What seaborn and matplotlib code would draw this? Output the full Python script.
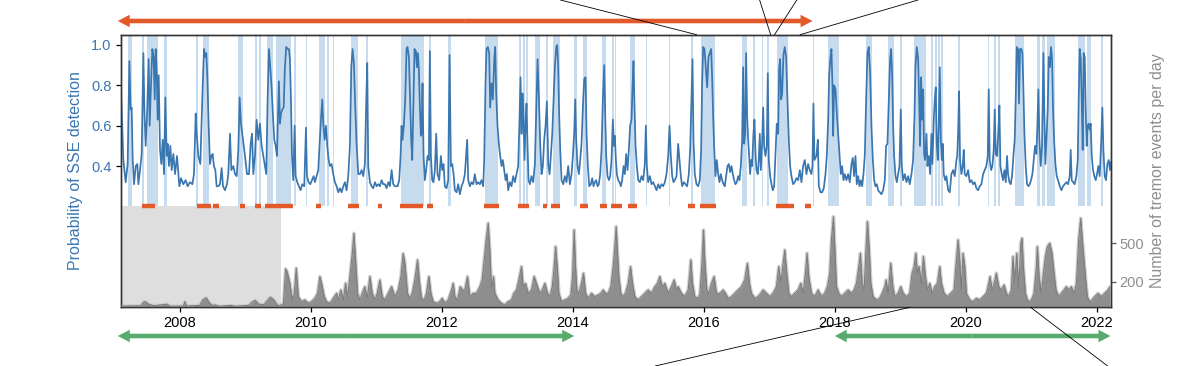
import numpy as np
import pandas as pd
import matplotlib
matplotlib.use("Agg")
import matplotlib.pyplot as plt
import seaborn as sns
from matplotlib.patches import ConnectionPatch

# ---------------- data (decimal years) ----------------
sse_year_a = [
    2007.094, 2007.135, 2007.171, 2007.201, 2007.227, 2007.247, 2007.262, 2007.278, 2007.298, 2007.324,
    2007.349, 2007.364, 2007.390, 2007.415, 2007.441, 2007.456, 2007.476, 2007.497, 2007.522, 2007.537,
    2007.558, 2007.578, 2007.598, 2007.614, 2007.629, 2007.644, 2007.659, 2007.675, 2007.695, 2007.715,
    2007.736, 2007.756, 2007.776, 2007.797, 2007.812, 2007.832, 2007.853, 2007.873, 2007.899, 2007.924,
    2007.955, 2007.990, 2008.016, 2008.051, 2008.087, 2008.117, 2008.153, 2008.189, 2008.214, 2008.240,
    2008.255, 2008.280, 2008.311, 2008.346, 2008.367, 2008.387, 2008.402, 2008.418, 2008.438, 2008.458,
    2008.479, 2008.499, 2008.519, 2008.540, 2008.560, 2008.586, 2008.611, 2008.636, 2008.657, 2008.687,
    2008.718, 2008.738, 2008.764, 2008.784, 2008.815, 2008.840, 2008.866, 2008.891, 2008.911, 2008.932,
    2008.962, 2008.993, 2009.023, 2009.054, 2009.079, 2009.100, 2009.120, 2009.145]
sse_prob_a = [
    0.83, 0.43, 0.32, 0.41, 0.92, 0.68, 0.69, 0.43, 0.31, 0.40,
    0.41, 0.31, 0.38, 0.46, 0.96, 0.68, 0.50, 0.65, 0.93, 0.60,
    0.81, 0.98, 0.94, 0.73, 0.98, 0.88, 0.63, 0.85, 0.48, 0.41,
    0.53, 0.36, 0.74, 0.45, 0.51, 0.40, 0.50, 0.38, 0.46, 0.36,
    0.45, 0.30, 0.34, 0.31, 0.33, 0.30, 0.32, 0.31, 0.36, 0.66,
    0.56, 0.45, 0.41, 0.79, 0.98, 0.94, 0.96, 0.84, 0.60, 0.41,
    0.45, 0.46, 0.40, 0.38, 0.30, 0.30, 0.31, 0.39, 0.30, 0.28,
    0.31, 0.36, 0.56, 0.38, 0.40, 0.36, 0.35, 0.48, 0.74, 0.61,
    0.53, 0.45, 0.36, 0.36, 0.51, 0.56, 0.36, 0.45]

sse_year_b = [
    2009.170, 2009.196, 2009.221, 2009.247, 2009.272, 2009.298, 2009.318, 2009.338, 2009.359, 2009.379,
    2009.399, 2009.420, 2009.440, 2009.461, 2009.481, 2009.496, 2009.511, 2009.527, 2009.542, 2009.562,
    2009.583, 2009.603, 2009.623, 2009.644, 2009.664, 2009.679, 2009.695, 2009.710, 2009.730, 2009.751,
    2009.766, 2009.791, 2009.817, 2009.842, 2009.868, 2009.898, 2009.924, 2009.939, 2009.964, 2009.990,
    2010.015, 2010.041, 2010.061, 2010.086, 2010.112, 2010.132, 2010.153, 2010.173, 2010.188, 2010.209,
    2010.229, 2010.249, 2010.270, 2010.290, 2010.315, 2010.341, 2010.366, 2010.392, 2010.417, 2010.443,
    2010.468, 2010.494, 2010.519, 2010.545, 2010.570, 2010.595, 2010.616, 2010.636, 2010.656, 2010.677,
    2010.697, 2010.723, 2010.748, 2010.774, 2010.799, 2010.824, 2010.845, 2010.860, 2010.875, 2010.901,
    2010.926, 2010.952, 2010.977, 2011.003, 2011.028, 2011.053, 2011.079, 2011.104, 2011.130, 2011.155,
    2011.181, 2011.206, 2011.232, 2011.257, 2011.282]
sse_prob_b = [
    0.63, 0.53, 0.61, 0.50, 0.45, 0.40, 0.36, 0.73, 0.98, 0.89,
    0.79, 0.65, 0.53, 0.50, 0.45, 0.63, 0.82, 0.61, 0.66, 0.68,
    0.69, 0.89, 0.99, 0.98, 0.98, 0.93, 0.73, 0.45, 0.33, 0.60,
    0.35, 0.32, 0.30, 0.28, 0.31, 0.30, 0.59, 0.35, 0.32, 0.31,
    0.33, 0.35, 0.32, 0.35, 0.38, 0.51, 0.63, 0.73, 0.61, 0.53,
    0.60, 0.50, 0.43, 0.40, 0.41, 0.36, 0.32, 0.30, 0.27, 0.29,
    0.27, 0.30, 0.32, 0.28, 0.35, 0.50, 0.89, 0.98, 0.91, 0.69,
    0.51, 0.36, 0.36, 0.38, 0.35, 0.41, 0.73, 0.91, 0.40, 0.32,
    0.30, 0.29, 0.32, 0.30, 0.31, 0.30, 0.33, 0.31, 0.31, 0.29,
    0.32, 0.30, 0.38, 0.31, 0.30]

sse_year_c = [
    2011.323, 2011.348, 2011.369, 2011.384, 2011.399, 2011.419, 2011.440, 2011.460, 2011.475, 2011.496,
    2011.511, 2011.531, 2011.547, 2011.567, 2011.582, 2011.603, 2011.618, 2011.633, 2011.648, 2011.664,
    2011.679, 2011.689, 2011.704, 2011.720, 2011.740, 2011.760, 2011.781, 2011.801, 2011.816, 2011.832,
    2011.852, 2011.872, 2011.893, 2011.913, 2011.933, 2011.959, 2011.984, 2012.005, 2012.025, 2012.045,
    2012.071, 2012.096, 2012.117, 2012.137, 2012.157, 2012.178, 2012.198, 2012.224, 2012.249, 2012.274,
    2012.300, 2012.325, 2012.351, 2012.371, 2012.386, 2012.402, 2012.427, 2012.453, 2012.478, 2012.503,
    2012.529, 2012.554, 2012.580, 2012.605, 2012.631, 2012.646, 2012.666, 2012.681, 2012.702, 2012.722,
    2012.737, 2012.758, 2012.778, 2012.799, 2012.814, 2012.829, 2012.849, 2012.870, 2012.890, 2012.911,
    2012.931, 2012.951, 2012.972, 2012.992, 2013.012, 2013.038, 2013.063, 2013.089, 2013.114, 2013.140,
    2013.165, 2013.185, 2013.201, 2013.216, 2013.231, 2013.246, 2013.262, 2013.277, 2013.292, 2013.307,
    2013.323, 2013.343, 2013.369, 2013.394, 2013.420]
sse_prob_c = [
    0.30, 0.33, 0.45, 0.60, 0.53, 0.60, 0.73, 0.98, 0.99, 0.94,
    0.76, 0.53, 0.43, 0.73, 0.98, 0.97, 0.89, 0.96, 0.88, 0.69,
    0.55, 0.56, 0.81, 0.45, 0.33, 0.38, 0.45, 0.43, 0.97, 0.45,
    0.33, 0.32, 0.38, 0.56, 0.36, 0.33, 0.45, 0.38, 0.41, 0.30,
    0.29, 0.33, 0.95, 0.40, 0.41, 0.36, 0.28, 0.27, 0.31, 0.26,
    0.30, 0.32, 0.36, 0.46, 0.53, 0.33, 0.30, 0.32, 0.31, 0.36,
    0.31, 0.32, 0.31, 0.33, 0.30, 0.43, 0.81, 0.98, 0.99, 0.96,
    0.69, 0.81, 0.73, 0.93, 0.99, 0.76, 0.60, 0.51, 0.45, 0.40,
    0.43, 0.38, 0.33, 0.36, 0.28, 0.32, 0.30, 0.35, 0.32, 0.36,
    0.40, 0.63, 0.84, 0.56, 0.76, 0.65, 0.43, 0.60, 0.71, 0.51,
    0.33, 0.31, 0.35, 0.32, 0.41]

sse_year_d = [
    2013.461, 2013.481, 2013.501, 2013.522, 2013.542, 2013.562, 2013.583, 2013.603, 2013.624, 2013.644,
    2013.664, 2013.685, 2013.705, 2013.725, 2013.746, 2013.761, 2013.776, 2013.791, 2013.807, 2013.827,
    2013.853, 2013.878, 2013.903, 2013.929, 2013.954, 2013.980, 2014.000, 2014.020, 2014.036, 2014.051,
    2014.071, 2014.092, 2014.112, 2014.132, 2014.158, 2014.173, 2014.194, 2014.209, 2014.229, 2014.250,
    2014.275, 2014.295, 2014.316, 2014.336, 2014.356, 2014.377, 2014.397, 2014.417, 2014.438, 2014.458,
    2014.479, 2014.494, 2014.509, 2014.529, 2014.550, 2014.570, 2014.590, 2014.611, 2014.626, 2014.641,
    2014.657, 2014.672, 2014.692, 2014.713, 2014.733, 2014.753, 2014.774, 2014.794, 2014.814, 2014.835,
    2014.855, 2014.875, 2014.896, 2014.911, 2014.926, 2014.942, 2014.957, 2014.977, 2014.998, 2015.023,
    2015.049, 2015.074, 2015.099, 2015.115, 2015.130, 2015.150, 2015.176, 2015.201, 2015.227, 2015.252,
    2015.278, 2015.303, 2015.328, 2015.354, 2015.379, 2015.405, 2015.430, 2015.456, 2015.476, 2015.496,
    2015.517, 2015.537, 2015.557, 2015.583, 2015.608]
sse_prob_d = [
    0.93, 0.74, 0.51, 0.36, 0.40, 0.53, 0.60, 0.72, 0.41, 0.36,
    0.45, 0.56, 0.73, 0.89, 0.99, 1.00, 0.89, 0.65, 0.48, 0.33,
    0.31, 0.35, 0.32, 0.40, 0.31, 0.36, 0.45, 0.56, 0.73, 0.53,
    0.40, 0.36, 0.43, 0.51, 0.73, 0.83, 0.84, 0.56, 0.40, 0.30,
    0.31, 0.34, 0.30, 0.32, 0.33, 0.30, 0.31, 0.36, 0.48, 0.73,
    0.90, 0.65, 0.45, 0.35, 0.33, 0.35, 0.43, 0.63, 0.50, 0.55,
    0.43, 0.36, 0.33, 0.32, 0.30, 0.33, 0.40, 0.36, 0.46, 0.38,
    0.48, 0.60, 0.63, 0.79, 0.92, 0.69, 0.50, 0.40, 0.33, 0.32,
    0.35, 0.33, 0.41, 0.60, 0.40, 0.32, 0.35, 0.31, 0.32, 0.30,
    0.28, 0.31, 0.29, 0.31, 0.30, 0.32, 0.36, 0.45, 0.60, 0.45,
    0.35, 0.32, 0.33, 0.35, 0.51]

sse_year_e = [
    2015.649, 2015.669, 2015.694, 2015.720, 2015.745, 2015.771, 2015.791, 2015.811, 2015.827, 2015.842,
    2015.862, 2015.888, 2015.913, 2015.939, 2015.959, 2015.974, 2015.990, 2016.010, 2016.030, 2016.051,
    2016.071, 2016.091, 2016.112, 2016.127, 2016.142, 2016.157, 2016.178, 2016.198, 2016.219, 2016.239,
    2016.259, 2016.280, 2016.300, 2016.320, 2016.341, 2016.361, 2016.381, 2016.402, 2016.422, 2016.443,
    2016.463, 2016.483, 2016.504, 2016.524, 2016.544, 2016.565, 2016.585, 2016.600, 2016.616, 2016.631,
    2016.646, 2016.661, 2016.677, 2016.692, 2016.707, 2016.722, 2016.738, 2016.758, 2016.773, 2016.789,
    2016.804, 2016.824, 2016.839, 2016.855, 2016.870, 2016.890, 2016.906, 2016.921, 2016.941, 2016.962,
    2016.977, 2016.992, 2017.013, 2017.033, 2017.053, 2017.074, 2017.094, 2017.114, 2017.135, 2017.150,
    2017.165, 2017.181, 2017.196, 2017.216, 2017.236, 2017.257, 2017.277, 2017.298, 2017.318, 2017.338,
    2017.364, 2017.389, 2017.415, 2017.440, 2017.466, 2017.491, 2017.516, 2017.542, 2017.567, 2017.593,
    2017.618, 2017.644, 2017.659, 2017.674, 2017.689]
sse_prob_e = [
    0.35, 0.30, 0.32, 0.31, 0.30, 0.36, 0.48, 0.73, 0.93, 0.53,
    0.36, 0.31, 0.30, 0.33, 0.48, 0.81, 0.99, 0.98, 0.89, 0.79,
    0.94, 0.96, 0.98, 0.84, 0.65, 0.50, 0.35, 0.43, 0.36, 0.32,
    0.36, 0.33, 0.31, 0.30, 0.35, 0.40, 0.41, 0.37, 0.40, 0.36,
    0.33, 0.31, 0.32, 0.35, 0.33, 0.40, 0.53, 0.89, 0.51, 0.56,
    0.96, 0.65, 0.53, 0.45, 0.36, 0.43, 0.40, 0.56, 0.63, 0.46,
    0.38, 0.36, 0.43, 0.56, 0.38, 0.51, 0.69, 0.50, 0.45, 0.50,
    0.86, 0.43, 0.35, 0.31, 0.28, 0.30, 0.45, 0.61, 0.56, 0.88,
    0.93, 0.73, 0.76, 0.95, 0.99, 0.94, 0.73, 0.53, 0.40, 0.35,
    0.31, 0.32, 0.34, 0.33, 0.38, 0.32, 0.40, 0.43, 0.36, 0.41,
    0.38, 0.36, 0.40, 0.71, 0.43]

sse_year_f = [
    2017.720, 2017.741, 2017.756, 2017.782, 2017.807, 2017.832, 2017.858, 2017.878, 2017.899, 2017.914,
    2017.934, 2017.949, 2017.965, 2017.975, 2017.990, 2018.011, 2018.031, 2018.051, 2018.072, 2018.092,
    2018.112, 2018.133, 2018.153, 2018.178, 2018.204, 2018.229, 2018.255, 2018.275, 2018.295, 2018.316,
    2018.336, 2018.357, 2018.377, 2018.397, 2018.418, 2018.438, 2018.458, 2018.479, 2018.499, 2018.519,
    2018.540, 2018.560, 2018.581, 2018.601, 2018.621, 2018.642, 2018.662, 2018.687, 2018.713, 2018.738,
    2018.764, 2018.784, 2018.804, 2018.825, 2018.845, 2018.860, 2018.876, 2018.891, 2018.906, 2018.927,
    2018.947, 2018.967, 2018.988, 2019.008, 2019.023, 2019.044, 2019.069, 2019.095, 2019.120, 2019.145,
    2019.171, 2019.196, 2019.217, 2019.232, 2019.252, 2019.273, 2019.288, 2019.303, 2019.318, 2019.334,
    2019.349, 2019.364, 2019.379, 2019.400, 2019.415, 2019.435, 2019.456, 2019.476, 2019.491, 2019.512,
    2019.527, 2019.542, 2019.557, 2019.573, 2019.588, 2019.603, 2019.619, 2019.634, 2019.649, 2019.664,
    2019.685, 2019.705, 2019.731, 2019.756, 2019.781, 2019.807, 2019.832, 2019.858, 2019.870]
sse_prob_f = [
    0.45, 0.53, 0.30, 0.27, 0.27, 0.29, 0.36, 0.45, 0.63, 0.85,
    0.94, 0.98, 0.79, 0.55, 0.80, 0.78, 0.66, 0.56, 0.45, 0.36,
    0.40, 0.33, 0.36, 0.33, 0.36, 0.32, 0.41, 0.44, 0.35, 0.45,
    0.31, 0.35, 0.30, 0.33, 0.30, 0.36, 0.45, 0.73, 0.96, 0.99,
    0.86, 0.60, 0.43, 0.33, 0.30, 0.31, 0.28, 0.27, 0.26, 0.28,
    0.33, 0.50, 0.51, 0.73, 0.93, 0.98, 0.86, 0.60, 0.45, 0.35,
    0.32, 0.36, 0.40, 0.68, 0.40, 0.33, 0.36, 0.32, 0.35, 0.31,
    0.36, 0.43, 0.65, 0.89, 0.99, 0.93, 0.73, 0.50, 0.84, 0.63,
    0.78, 0.46, 0.43, 0.56, 0.40, 0.45, 0.36, 0.56, 0.41, 0.63,
    0.73, 0.79, 0.51, 0.43, 0.61, 0.89, 0.53, 0.43, 0.51, 0.36,
    0.33, 0.35, 0.28, 0.27, 0.36, 0.38, 0.35, 0.43, 0.45]

sse_year_g = [
    2019.883, 2019.898, 2019.913, 2019.934, 2019.954, 2019.969, 2019.985, 2020.010, 2020.036, 2020.061,
    2020.086, 2020.112, 2020.137, 2020.163, 2020.188, 2020.214, 2020.239, 2020.265, 2020.290, 2020.315,
    2020.336, 2020.351, 2020.366, 2020.387, 2020.407, 2020.427, 2020.443, 2020.458, 2020.478, 2020.499,
    2020.514, 2020.529, 2020.550, 2020.570, 2020.590, 2020.611, 2020.631, 2020.646, 2020.667, 2020.687,
    2020.707, 2020.728, 2020.748, 2020.763, 2020.779, 2020.799, 2020.814, 2020.829, 2020.850, 2020.865,
    2020.880, 2020.896, 2020.916, 2020.936, 2020.957, 2020.977, 2020.997, 2021.018, 2021.038, 2021.059,
    2021.079, 2021.094, 2021.109, 2021.125, 2021.145, 2021.165, 2021.186, 2021.201, 2021.216, 2021.232,
    2021.252, 2021.267, 2021.283, 2021.303, 2021.318, 2021.333, 2021.349, 2021.369, 2021.389, 2021.410,
    2021.435, 2021.461, 2021.486, 2021.511, 2021.537, 2021.562, 2021.588, 2021.603, 2021.618, 2021.639,
    2021.664, 2021.690, 2021.710, 2021.725, 2021.740, 2021.756, 2021.771, 2021.786, 2021.801, 2021.817,
    2021.832, 2021.847, 2021.862, 2021.878, 2021.893, 2021.908, 2021.924, 2021.944, 2021.964, 2021.985,
    2022.005, 2022.025, 2022.046, 2022.066, 2022.086, 2022.102, 2022.122, 2022.142, 2022.163, 2022.183,
    2022.203, 2022.214]
sse_prob_g = [
    0.56, 0.77, 0.43, 0.36, 0.40, 0.48, 0.36, 0.35, 0.38, 0.32,
    0.33, 0.31, 0.32, 0.29, 0.28, 0.30, 0.31, 0.36, 0.38, 0.40,
    0.45, 0.78, 0.43, 0.38, 0.40, 0.48, 0.68, 0.46, 0.45, 0.58,
    0.70, 0.40, 0.36, 0.33, 0.38, 0.32, 0.45, 0.36, 0.32, 0.31,
    0.35, 0.45, 0.53, 0.73, 0.99, 0.98, 0.71, 0.98, 0.98, 0.96,
    0.79, 0.56, 0.40, 0.31, 0.30, 0.31, 0.33, 0.36, 0.43, 0.50,
    0.46, 0.60, 0.78, 0.53, 0.40, 0.50, 0.96, 0.65, 0.41, 0.53,
    0.68, 0.94, 0.89, 0.99, 0.93, 0.68, 0.53, 0.41, 0.35, 0.33,
    0.30, 0.28, 0.30, 0.31, 0.32, 0.31, 0.35, 0.48, 0.33, 0.32,
    0.31, 0.35, 0.43, 0.73, 0.98, 0.93, 0.73, 0.48, 0.96, 0.94,
    0.68, 0.50, 0.60, 0.61, 0.58, 0.61, 0.45, 0.38, 0.35, 0.33,
    0.36, 0.40, 0.35, 0.50, 0.69, 0.48, 0.35, 0.33, 0.41, 0.43,
    0.38, 0.42]

tremor_year = [
    2007.10, 2007.40, 2007.44, 2007.47, 2007.52, 2007.60, 2007.80, 2007.85, 2008.05, 2008.076,
    2008.10, 2008.30, 2008.35, 2008.40, 2008.45, 2008.50, 2008.53, 2008.60, 2008.78, 2008.85,
    2009.05, 2009.10, 2009.15, 2009.20, 2009.28, 2009.38, 2009.43, 2009.50, 2009.55,
    2009.578, 2009.613, 2009.635, 2009.679, 2009.715, 2009.745, 2009.776, 2009.807, 2009.857, 2009.908,
    2009.959, 2010.010, 2010.061, 2010.102, 2010.137, 2010.163, 2010.204, 2010.239, 2010.290, 2010.341,
    2010.392, 2010.417, 2010.458, 2010.494, 2010.529, 2010.560, 2010.595, 2010.631, 2010.656, 2010.682,
    2010.712, 2010.748, 2010.784, 2010.824, 2010.860, 2010.901, 2010.936, 2010.977, 2011.013, 2011.053,
    2011.089, 2011.130, 2011.181, 2011.232, 2011.282, 2011.333, 2011.374, 2011.409, 2011.435, 2011.475,
    2011.511, 2011.547, 2011.587, 2011.628, 2011.659, 2011.689, 2011.730, 2011.765, 2011.801, 2011.832,
    2011.867, 2011.918, 2011.969, 2012.005, 2012.045, 2012.096, 2012.147, 2012.173, 2012.198, 2012.239,
    2012.280, 2012.315, 2012.351, 2012.391, 2012.427, 2012.478, 2012.529, 2012.580, 2012.615, 2012.646,
    2012.676, 2012.707, 2012.732, 2012.758, 2012.788, 2012.809, 2012.860, 2012.911, 2012.961, 2013.012,
    2013.063, 2013.099, 2013.140, 2013.175, 2013.216, 2013.241, 2013.277, 2013.318, 2013.369, 2013.409,
    2013.461, 2013.496, 2013.532, 2013.573, 2013.613, 2013.649, 2013.685, 2013.715, 2013.736, 2013.761,
    2013.786, 2013.827, 2013.878, 2013.929, 2013.970, 2013.995, 2014.020, 2014.041, 2014.061, 2014.092,
    2014.132, 2014.163, 2014.194, 2014.234, 2014.285, 2014.336, 2014.387, 2014.428, 2014.463, 2014.499,
    2014.540, 2014.580, 2014.616, 2014.641, 2014.662, 2014.682, 2014.702, 2014.733, 2014.764, 2014.804,
    2014.845, 2014.881, 2014.911, 2014.947, 2014.998, 2015.049, 2015.099, 2015.150, 2015.201, 2015.252,
    2015.293, 2015.328, 2015.364, 2015.405, 2015.456, 2015.506, 2015.547, 2015.583, 2015.608, 2015.659,
    2015.710, 2015.761, 2015.786, 2015.801, 2015.827, 2015.862, 2015.903, 2015.939, 2015.969, 2015.995,
    2016.015, 2016.046, 2016.076, 2016.117, 2016.157, 2016.193, 2016.244, 2016.295, 2016.331, 2016.371,
    2016.422, 2016.473, 2016.524, 2016.575, 2016.626, 2016.666, 2016.697, 2016.727, 2016.778, 2016.829,
    2016.870, 2016.906, 2016.956, 2017.007, 2017.058, 2017.109, 2017.145, 2017.175, 2017.211, 2017.236,
    2017.267, 2017.298, 2017.338, 2017.389, 2017.440, 2017.481, 2017.516, 2017.552, 2017.577, 2017.603,
    2017.644, 2017.694, 2017.746, 2017.797, 2017.848, 2017.888, 2017.924, 2017.949, 2017.980, 2018.000,
    2018.026, 2018.061, 2018.102, 2018.153, 2018.204, 2018.255, 2018.295, 2018.331, 2018.367, 2018.392,
    2018.418, 2018.448, 2018.474, 2018.499, 2018.524, 2018.550, 2018.586, 2018.636, 2018.687, 2018.723,
    2018.764, 2018.784, 2018.815, 2018.855, 2018.886, 2018.916, 2018.967, 2019.008, 2019.044, 2019.095,
    2019.145, 2019.181, 2019.212, 2019.237, 2019.262, 2019.288, 2019.323, 2019.354, 2019.384, 2019.415,
    2019.451, 2019.486, 2019.527, 2019.568, 2019.603, 2019.629, 2019.669, 2019.720, 2019.771, 2019.822,
    2019.857, 2019.883, 2019.908, 2019.934, 2019.959, 2019.985, 2020.010, 2020.061, 2020.112, 2020.163,
    2020.214, 2020.265, 2020.315, 2020.341, 2020.371, 2020.402, 2020.433, 2020.468, 2020.504, 2020.544,
    2020.585, 2020.621, 2020.656, 2020.697, 2020.722, 2020.748, 2020.779, 2020.809, 2020.840, 2020.860,
    2020.880, 2020.911, 2020.951, 2021.003, 2021.043, 2021.079, 2021.094, 2021.120, 2021.155, 2021.186,
    2021.216, 2021.247, 2021.283, 2021.318, 2021.349, 2021.379, 2021.420, 2021.461, 2021.501, 2021.537,
    2021.572, 2021.613, 2021.654, 2021.690, 2021.725, 2021.756, 2021.781, 2021.806, 2021.832, 2021.857,
    2021.893, 2021.929, 2021.969, 2022.020, 2022.071, 2022.122, 2022.173, 2022.203]
tremor_count = [
    10, 12, 40, 45, 25, 12, 25, 8, 10, 45,
    10, 15, 60, 75, 35, 12, 20, 8, 15, 8,
    15, 40, 55, 25, 20, 80, 60, 10, 20,
    18, 300, 280, 187, 57, 109, 305, 83, 44, 57,
    31, 44, 70, 109, 240, 187, 83, 44, 31, 70,
    109, 57, 135, 57, 187, 83, 240, 420, 578, 370,
    109, 57, 109, 161, 70, 240, 109, 57, 109, 213,
    83, 57, 109, 161, 83, 135, 240, 420, 344, 109,
    70, 109, 214, 370, 187, 70, 57, 109, 240, 109,
    44, 31, 44, 70, 31, 57, 135, 187, 83, 57,
    161, 135, 135, 240, 83, 109, 109, 161, 214, 370,
    526, 656, 448, 135, 240, 109, 57, 31, 18, 44,
    57, 109, 135, 214, 318, 161, 187, 109, 135, 240,
    161, 109, 135, 187, 109, 83, 161, 318, 474, 318,
    109, 44, 57, 70, 96, 240, 604, 318, 135, 109,
    187, 266, 109, 70, 109, 83, 96, 109, 135, 109,
    109, 161, 318, 474, 630, 422, 240, 109, 83, 109,
    187, 318, 187, 83, 57, 83, 109, 135, 109, 161,
    187, 240, 161, 187, 109, 161, 214, 135, 161, 109,
    83, 135, 266, 370, 187, 83, 70, 96, 318, 604,
    370, 135, 109, 187, 240, 109, 109, 135, 109, 70,
    83, 109, 135, 161, 214, 344, 187, 109, 70, 83,
    109, 135, 109, 83, 109, 161, 318, 187, 344, 448,
    266, 109, 83, 109, 135, 187, 109, 266, 422, 240,
    109, 83, 135, 83, 109, 161, 266, 526, 708, 474,
    161, 109, 83, 109, 135, 109, 135, 187, 318, 422,
    187, 135, 422, 669, 474, 187, 83, 57, 70, 109,
    161, 214, 109, 344, 161, 83, 109, 161, 109, 83,
    109, 266, 318, 422, 266, 318, 187, 396, 240, 135,
    187, 109, 161, 187, 318, 187, 109, 83, 109, 135,
    370, 526, 370, 135, 422, 318, 109, 57, 44, 70,
    57, 83, 109, 161, 240, 135, 187, 266, 161, 135,
    174, 109, 83, 135, 396, 187, 422, 135, 500, 539,
    318, 109, 44, 57, 109, 318, 474, 240, 109, 266,
    396, 474, 500, 422, 266, 135, 83, 109, 135, 161,
    135, 161, 109, 187, 526, 695, 526, 370, 214, 83,
    44, 57, 83, 109, 83, 109, 135, 161]

# probability-detection windows (light blue bands)
detect_start = [2007.20, 2007.415, 2007.49, 2007.76, 2008.24, 2008.35, 2008.89, 2009.15,
                2009.206, 2009.333, 2009.46, 2009.50, 2009.746, 2009.92, 2010.122, 2010.24,
                2010.33, 2010.611, 2010.84, 2011.374, 2011.70, 2011.81, 2012.096, 2012.656,
                2013.175, 2013.24, 2013.282, 2013.42, 2013.583, 2013.70, 2014.015, 2014.148,
                2014.448, 2014.60, 2014.641, 2014.88, 2015.11, 2015.47, 2015.80, 2015.954,
                2016.585, 2016.636, 2016.758, 2016.89, 2016.962, 2017.114, 2017.664, 2017.899,
                2018.474, 2018.82, 2019.0, 2019.212, 2019.476, 2019.527, 2019.578, 2019.62,
                2019.883, 2020.336, 2020.433, 2020.499, 2020.748, 2021.094, 2021.165, 2021.247,
                2021.715, 2021.847, 2022.071]
detect_end = [2007.27, 2007.456, 2007.66, 2007.80, 2008.28, 2008.44, 2008.96, 2009.18,
              2009.237, 2009.425, 2009.49, 2009.695, 2009.766, 2009.934, 2010.214, 2010.27,
              2010.35, 2010.723, 2010.875, 2011.689, 2011.725, 2011.84, 2012.137, 2012.86,
              2013.206, 2013.267, 2013.313, 2013.495, 2013.613, 2013.80, 2014.066, 2014.209,
              2014.499, 2014.63, 2014.66, 2014.947, 2015.125, 2015.49, 2015.842, 2016.168,
              2016.626, 2016.666, 2016.778, 2016.91, 2016.992, 2017.287, 2017.684, 2018.072,
              2018.57, 2018.901, 2019.02, 2019.39, 2019.496, 2019.557, 2019.61, 2019.655,
              2019.908, 2020.361, 2020.463, 2020.529, 2020.891, 2021.13, 2021.206, 2021.359,
              2021.827, 2021.919, 2022.102]

# catalogued SSEs (orange bars)
catalog_start = [2007.42, 2008.26, 2008.51, 2008.91, 2009.15, 2009.30, 2010.08, 2010.57,
                 2011.03, 2011.36, 2011.765, 2012.646, 2013.165, 2013.547, 2013.664, 2014.107,
                 2014.412, 2014.59, 2014.845, 2015.76, 2015.939, 2017.099, 2017.552]
catalog_end = [2007.62, 2008.48, 2008.59, 2008.99, 2009.23, 2009.73, 2010.16, 2010.73,
               2011.09, 2011.715, 2011.867, 2012.87, 2013.33, 2013.608, 2013.80, 2014.234,
               2014.514, 2014.743, 2014.982, 2015.862, 2016.193, 2017.379, 2017.633]
catalog_level = 0.2

no_tremor_period = [2007.095, 2009.55]
year_ticks = [2008, 2010, 2012, 2014, 2016, 2018, 2020, 2022]
prob_ticks = [0.4, 0.6, 0.8, 1.0]
tremor_ticks = [200, 500]
x_range = [2007.095, 2022.214]
prob_range = [-0.30, 1.051]
tremor_range = [0, 2130]

orange_arrows = [(2007.05, 2017.66)]
green_arrows = [(2007.05, 2014.02), (2018.0, 2022.21)]
connector_top_year = [2015.89, 2017.02, 2017.08, 2017.47]
connector_top_figx = [0.467, 0.633, 0.664, 0.765]
connector_bot_year = [2019.15, 2020.99]
connector_bot_figx = [0.546, 0.923]

# ---------------- style ----------------
BLUE = "#3a76b0"
SPAN = "#c7dbee"
ORANGE = "#e35a2a"
GREEN = "#57ab6c"
GRAY_TXT = "#8f8f8f"

sns.set_theme(style="white")
plt.rcParams["font.family"] = ["Liberation Sans", "DejaVu Sans"]

sse_year = sse_year_a + sse_year_b + sse_year_c + sse_year_d + sse_year_e + sse_year_f + sse_year_g
sse_prob = sse_prob_a + sse_prob_b + sse_prob_c + sse_prob_d + sse_prob_e + sse_prob_f + sse_prob_g
sse_df = pd.DataFrame({"year": sse_year, "prob": sse_prob})
tr_df = pd.DataFrame({"year": tremor_year, "count": tremor_count})

fig = plt.figure(figsize=(12, 3.66), dpi=100)
ax = fig.add_axes([0.1006, 0.1604, 0.8250, 0.7448])
ax.set_xlim(*x_range)
ax.set_ylim(*prob_range)

lo, hi = prob_range
frac = (catalog_level - lo) / (hi - lo)

for s, e in zip(detect_start, detect_end):
    ax.axvspan(s, e, ymin=frac, ymax=1, color=SPAN, lw=0, zorder=0.5)
ax.axvspan(no_tremor_period[0], no_tremor_period[1], ymin=0, ymax=frac,
           color="#dedede", lw=0, zorder=0.4)

sns.lineplot(data=sse_df, x="year", y="prob", ax=ax, color=BLUE, lw=1.25,
             estimator=None, sort=False, zorder=3)
ax.hlines([catalog_level] * len(catalog_start), catalog_start, catalog_end,
          color=ORANGE, lw=3.2, zorder=4)

ax2 = ax.twinx()
ax2.set_ylim(*tremor_range)
ax2.plot(tr_df["year"], tr_df["count"], color="#cfcfcf", lw=2.6, zorder=1)
ax2.fill_between(tr_df["year"], 0, tr_df["count"], color="#8e8e8e", lw=0, zorder=2)
sns.lineplot(data=tr_df, x="year", y="count", ax=ax2, color="#7d7d7d", lw=0.8,
             estimator=None, sort=False, zorder=3)

# axes cosmetics
ax.set_xticks(year_ticks)
ax.set_xticklabels([str(y) for y in year_ticks], fontsize=10.5, color="black")
ax.set_yticks(prob_ticks)
ax.set_yticklabels([f"{v:.1f}" for v in prob_ticks], fontsize=10.5)
ax.tick_params(axis="x", bottom=True, direction="out", length=3.5, width=0.9,
               color="black", pad=3)
ax.tick_params(axis="y", left=True, direction="out", length=3.5, width=0.9,
               color="black", labelcolor=BLUE, pad=3)
ax.set_xlabel("")
ax.set_ylabel("Probability of SSE detection", color=BLUE, fontsize=11.5)
ax.yaxis.set_label_coords(-0.038, 0.5)

ax2.set_yticks(tremor_ticks)
ax2.set_yticklabels([str(v) for v in tremor_ticks], fontsize=10.5)
ax2.tick_params(axis="y", right=True, direction="out", length=3.5, width=0.9,
                color="#555555", labelcolor=GRAY_TXT, pad=3)
ax2.set_ylabel("Number of tremor events per day", color=GRAY_TXT, fontsize=11.5)
ax2.yaxis.set_label_coords(1.040, 0.5)

for a in (ax, ax2):
    for sp in a.spines.values():
        sp.set_visible(True)
        sp.set_color("#333333")
        sp.set_linewidth(1.0)

# arrows outside the axes
def double_arrow(x0, x1, fy, color):
    mid = 0.5 * (x0 + x1)
    style = "simple,head_length=0.86,head_width=0.9,tail_width=0.33"
    for end in (x0, x1):
        ax.annotate("", xy=(end, fy), xytext=(mid, fy),
                    xycoords=("data", "figure fraction"),
                    textcoords=("data", "figure fraction"),
                    arrowprops=dict(arrowstyle=style, color=color, lw=0,
                                    shrinkA=0, shrinkB=0, mutation_scale=10),
                    annotation_clip=False)

for x0, x1 in orange_arrows:
    double_arrow(x0, x1, 1 - 21 / 366, ORANGE)
for x0, x1 in green_arrows:
    double_arrow(x0, x1, 1 - 336 / 366, GREEN)

# thin connector lines to neighbouring panels
for yr, fx in zip(connector_top_year, connector_top_figx):
    con = ConnectionPatch(xyA=(yr, 1.0), coordsA=ax.get_xaxis_transform(),
                          xyB=(fx, 1.0), coordsB=fig.transFigure,
                          color="black", lw=0.6)
    fig.add_artist(con)
for yr, fx in zip(connector_bot_year, connector_bot_figx):
    con = ConnectionPatch(xyA=(yr, 0.0), coordsA=ax.get_xaxis_transform(),
                          xyB=(fx, 0.0), coordsB=fig.transFigure,
                          color="black", lw=0.6)
    fig.add_artist(con)

fig.savefig("out.png", dpi=100)
